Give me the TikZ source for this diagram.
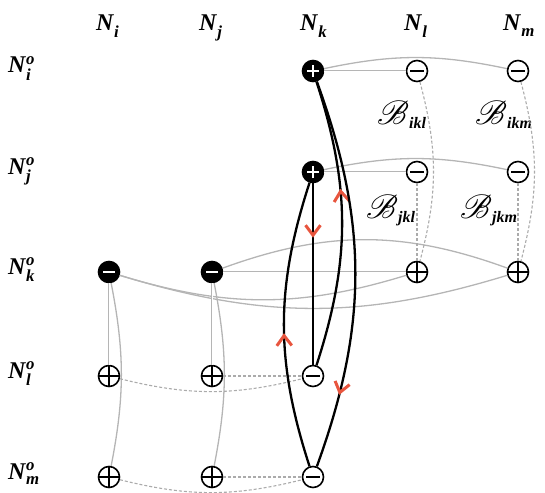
\documentclass[tikz,border=0pt]{standalone}
\usepackage{fix-cm}
\usepackage{amsmath}
\usepackage{mathrsfs}
\usepackage{fontspec}
\setmainfont{Liberation Serif}
\usetikzlibrary{arrows.meta,decorations.markings}
\definecolor{gl}{HTML}{B5B5B5}
\definecolor{dl}{HTML}{ABABAB}
\definecolor{ar}{HTML}{E8553E}
\newcommand{\lbN}[2]{\textbf{\textit{N}}$_{\textbf{\textit{#1}}}^{\textbf{\textit{#2}}}$}
\newcommand{\lbB}[1]{\scalebox{1.35}{$\mathscr{B}$}\raisebox{-4pt}{\fontsize{16}{18}\selectfont\bfseries\itshape #1}}
\tikzset{
  vnode/.style={circle, draw=black, line width=1.6pt, minimum size=21pt, inner sep=0pt, fill=white},
  wplus/.style={vnode, path picture={
    \draw[line width=1.3pt] ([xshift=-11pt]path picture bounding box.center) -- ([xshift=11pt]path picture bounding box.center);
    \draw[line width=1.3pt] ([yshift=-11pt]path picture bounding box.center) -- ([yshift=11pt]path picture bounding box.center);}},
  wminus/.style={vnode, path picture={
    \draw[line width=1.4pt] ([xshift=-7pt]path picture bounding box.center) -- ([xshift=7pt]path picture bounding box.center);}},
  bplus/.style={vnode, fill=black, path picture={
    \draw[white, line width=2pt] ([xshift=-6pt]path picture bounding box.center) -- ([xshift=6pt]path picture bounding box.center);
    \draw[white, line width=2pt] ([yshift=-6pt]path picture bounding box.center) -- ([yshift=6pt]path picture bounding box.center);}},
  bminus/.style={vnode, fill=black, path picture={
    \draw[white, line width=2.2pt] ([xshift=-6pt]path picture bounding box.center) -- ([xshift=6pt]path picture bounding box.center);}},
  gdbl/.style={draw=gl, line width=0.8pt, double=white, double distance=0.8pt},
  gcur/.style={draw=gl, line width=1.3pt},
  gdash/.style={draw=dl, line width=1.1pt, dash pattern=on 3pt off 2pt},
  blk/.style={draw=black, line width=2.3pt},
  redmark/.style={postaction={decorate, decoration={markings,
    mark=at position #1 with {\arrow{Straight Barb[length=10pt,width=15pt,line width'=3pt,color=ar]}}}}},
  lab/.style={font=\fontsize{24}{28}\selectfont, inner sep=0pt, anchor=base west},
  blab/.style={font=\fontsize{24}{28}\selectfont, inner sep=0pt, anchor=base west},
}
\begin{document}
\begin{tikzpicture}[x=1pt,y=-1pt]
\useasboundingbox (0,0) rectangle (545,492);
% header labels
\node[lab] (hi) at (96,31) {\lbN{i}{}};
\node[lab] (hj) at (199,31) {\lbN{j}{}};
\node[lab] (hk) at (300,31) {\lbN{k}{}};
\node[lab] (hl) at (404,31) {\lbN{l}{}};
\node[lab] (hm) at (503,31) {\lbN{m}{}};
% row labels
\node[lab] (ri) at (8,73) {\lbN{i}{o}};
\node[lab] (rj) at (8,174) {\lbN{j}{o}};
\node[lab] (rk) at (8,274) {\lbN{k}{o}};
\node[lab] (rl) at (8,378) {\lbN{l}{o}};
\node[lab] (rm) at (8,479) {\lbN{m}{o}};
% B labels
\node[blab] (bikl) at (377,124) {\lbB{ikl}};
\node[blab] (bikm) at (475,124) {\lbB{ikm}};
\node[blab] (bjkl) at (366,218) {\lbB{jkl}};
\node[blab] (bjkm) at (460,218) {\lbB{jkm}};
% nodes
\node[bplus] (ki) at (313,71) {};
\node[wminus] (li) at (417,71) {};
\node[wminus] (mi) at (518,71) {};
\node[bplus] (kj) at (313,172) {};
\node[wminus] (lj) at (417,172) {};
\node[wminus] (mj) at (518,172) {};
\node[bminus] (ik) at (109,272) {};
\node[bminus] (jk) at (212,272) {};
\node[wplus] (lk) at (417,272) {};
\node[wplus] (mk) at (518,272) {};
\node[wplus] (il) at (109,376) {};
\node[wplus] (jl) at (212,376) {};
\node[wminus] (kl) at (313,376) {};
\node[wplus] (im) at (109,477) {};
\node[wplus] (jm) at (212,477) {};
\node[wminus] (km) at (313,477) {};
% gray solid edges
\draw[gdbl] (ki) -- (li);
\draw[gcur] (ki) to[bend left=12] (mi);
\draw[gdbl] (kj) -- (lj);
\draw[gcur] (kj) to[bend left=12] (mj);
\draw[gdbl] (jk) -- (lk);
\draw[gcur] (jk) to[bend left=20] (mk);
\draw[gcur] (ik) to[bend right=17] (lk);
\draw[gcur] (ik) to[bend right=17] (mk);
\draw[gdbl] (ik) -- (il);
\draw[gcur] (ik) to[bend left=11] (im);
\draw[gdbl] (jk) -- (jl);
\draw[gcur] (jk) to[bend left=11] (jm);
% dashed edges
\draw[gdash] (li) to[bend left=15] (lk);
\draw[gdash] (mi) to[bend left=15] (mk);
\draw[gdash] (lj) -- (lk);
\draw[gdash] (mj) -- (mk);
\draw[gdash] (jl) -- (kl);
\draw[gdash] (il) to[bend right=14] (kl);
\draw[gdash] (jm) -- (km);
\draw[gdash] (im) to[bend right=14] (km);
% black edges
\draw[blk, redmark=0.3] (kj) -- (kl);
\draw[blk, redmark=0.62] (kl) to[bend right=18] (ki);
\draw[blk, redmark=0.47] (km) to[bend left=18] (kj);
\draw[blk, redmark=0.81] (ki) to[bend left=20] (km);
\end{tikzpicture}
\end{document}
